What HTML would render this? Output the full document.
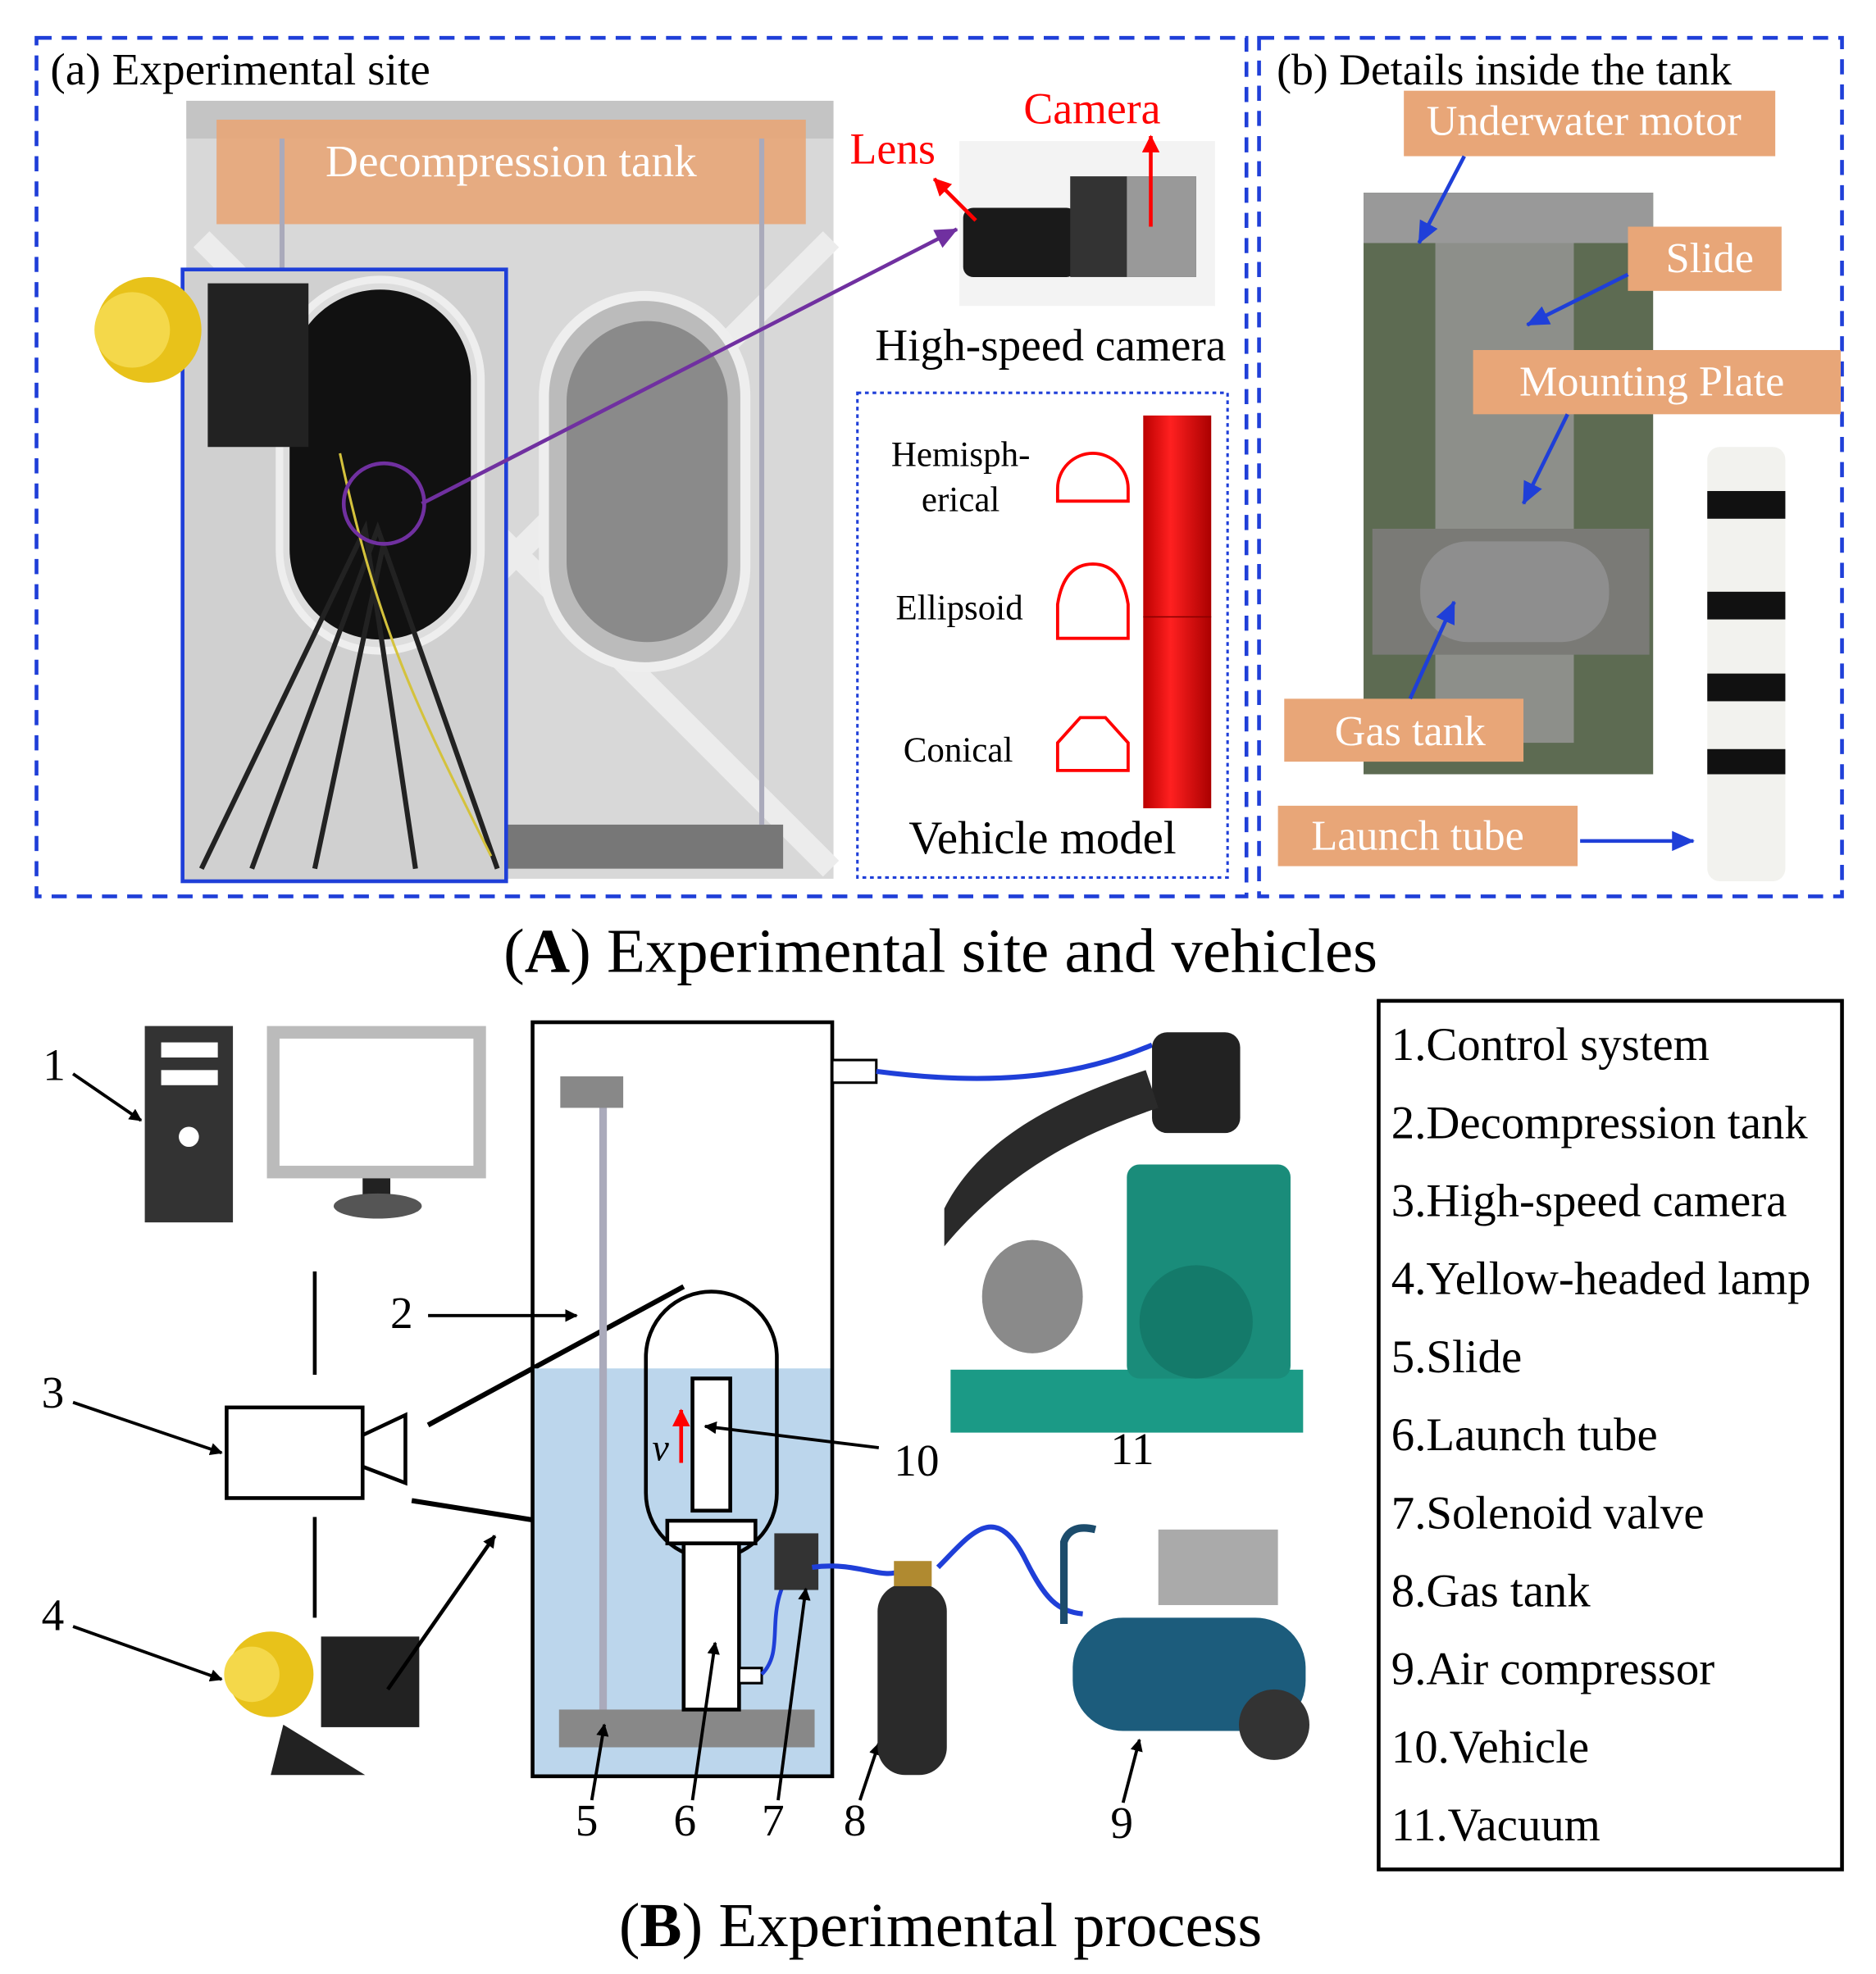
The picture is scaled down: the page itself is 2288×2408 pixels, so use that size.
<!DOCTYPE html>
<html><head><meta charset="utf-8"><style>
html,body{margin:0;padding:0;background:#fff}
svg{display:block}
text{font-family:"Liberation Serif",serif}
</style></head><body>
<svg width="2288" height="2408" viewBox="0 0 1490 1568" xmlns="http://www.w3.org/2000/svg">
<defs>
<marker id="ab" markerWidth="10" markerHeight="10" refX="9" refY="5" orient="auto" markerUnits="userSpaceOnUse"><path d="M0,0 L10,5 L0,10z" fill="#000"/></marker>
<marker id="ar" markerWidth="14" markerHeight="14" refX="13" refY="7" orient="auto" markerUnits="userSpaceOnUse"><path d="M0,0 L14,7 L0,14z" fill="red"/></marker>
<marker id="abl" markerWidth="18" markerHeight="16" refX="17" refY="8" orient="auto" markerUnits="userSpaceOnUse"><path d="M0,0 L18,8 L0,16z" fill="#1f3fd8"/></marker>
<marker id="ap" markerWidth="18" markerHeight="16" refX="17" refY="8" orient="auto" markerUnits="userSpaceOnUse"><path d="M0,0 L18,8 L0,16z" fill="#7030a0"/></marker>
<linearGradient id="cyl" x1="0" x2="1"><stop offset="0" stop-color="#b00"/><stop offset=".4" stop-color="#ff2020"/><stop offset="1" stop-color="#a00"/></linearGradient>
</defs>
<rect x="29" y="30" width="961" height="682" fill="none" stroke="#1f3fd8" stroke-width="3" stroke-dasharray="12,8"/>
<rect x="1000" y="30" width="463" height="682" fill="none" stroke="#1f3fd8" stroke-width="3" stroke-dasharray="12,8"/>
<rect x="148" y="80" width="514" height="618" fill="#d8d8d8"/>
<rect x="148" y="80" width="514" height="30" fill="#c4c4c4"/>
<path d="M160,190 L660,690 M660,190 L160,690" stroke="#ececec" stroke-width="18"/>
<rect x="172" y="95" width="468" height="83" fill="#e8a678" opacity=".9"/>
<text x="406" y="140" font-size="36" fill="#fff" text-anchor="middle">Decompression tank</text>
<rect x="400" y="655" width="222" height="35" fill="#777"/>
<rect x="603" y="110" width="4" height="545" fill="#aab"/>
<rect x="222" y="110" width="4" height="110" fill="#aab"/>
<rect x="432" y="235" width="160" height="295" rx="80" fill="#bbb" stroke="#eee" stroke-width="8"/>
<rect x="450" y="255" width="128" height="255" rx="64" fill="#8a8a8a"/>
<rect x="145" y="214" width="257" height="486" fill="#d0d0d0" stroke="#1f3fd8" stroke-width="3"/>
<rect x="222" y="222" width="160" height="295" rx="80" fill="#ddd" stroke="#eee" stroke-width="6"/>
<rect x="230" y="230" width="144" height="278" rx="72" fill="#111"/>
<path d="M160,690 L290,420 L330,690 M200,690 L300,420 L395,690 M250,690 L305,430" stroke="#222" stroke-width="4" fill="none"/>
<path d="M270,360 C300,500 330,560 390,680" stroke="#d4c23c" stroke-width="2" fill="none"/>
<circle cx="118" cy="262" r="42" fill="#e8c21a"/><circle cx="105" cy="262" r="30" fill="#f4d84a"/>
<rect x="165" y="225" width="80" height="130" fill="#222"/>
<circle cx="305" cy="400" r="32" fill="none" stroke="#7030a0" stroke-width="3"/>
<line x1="335" y1="400" x2="760" y2="182" stroke="#7030a0" stroke-width="3" marker-end="url(#ap)"/>
<rect x="762" y="112" width="203" height="131" fill="#f3f3f3"/>
<rect x="765" y="165" width="90" height="55" rx="8" fill="#1a1a1a"/>
<rect x="850" y="140" width="100" height="80" fill="#333"/>
<rect x="895" y="140" width="55" height="80" fill="#999"/>
<line x1="775" y1="175" x2="742" y2="142" stroke="red" stroke-width="3" marker-end="url(#ar)"/>
<line x1="914" y1="180" x2="914" y2="108" stroke="red" stroke-width="3" marker-end="url(#ar)"/>
<text x="675" y="130" font-size="35" fill="red">Lens</text>
<text x="813" y="98" font-size="35" fill="red">Camera</text>
<text x="695" y="286" font-size="36">High-speed camera</text>
<text x="40" y="67" font-size="36">(a) Experimental site</text>
<rect x="681" y="312" width="294" height="385" fill="none" stroke="#1f3fd8" stroke-width="2" stroke-dasharray="3,3"/>
<text x="763" y="370" font-size="28" text-anchor="middle">Hemisph-</text>
<text x="763" y="406" font-size="28" text-anchor="middle">erical</text>
<text x="762" y="492" font-size="28" text-anchor="middle">Ellipsoid</text>
<text x="761" y="605" font-size="28" text-anchor="middle">Conical</text>
<path d="M840,398 L840,388 A28,28 0 0 1 896,388 L896,398 Z" fill="none" stroke="red" stroke-width="2.5"/>
<path d="M840,507 L840,480 Q845,448 868,448 Q891,448 896,480 L896,507 Z" fill="none" stroke="red" stroke-width="2.5"/>
<path d="M840,612 L840,590 L858,570 L878,570 L896,590 L896,612 Z" fill="none" stroke="red" stroke-width="2.5"/>
<rect x="908" y="330" width="54" height="312" fill="url(#cyl)"/>
<line x1="908" y1="490" x2="962" y2="490" stroke="#800" stroke-width="1"/>
<text x="828" y="678" font-size="37" text-anchor="middle">Vehicle model</text>
<text x="1014" y="67" font-size="35">(b) Details inside the  tank</text>
<rect x="1083" y="153" width="230" height="462" fill="#5d6b52"/>
<rect x="1140" y="190" width="110" height="400" fill="#8d8f8a"/>
<path d="M1090,420 L1310,420 L1310,520 L1090,520Z" fill="#7a7a76"/>
<rect x="1128" y="430" width="150" height="80" rx="38" fill="#8e8e8e"/>
<rect x="1083" y="153" width="230" height="40" fill="#999"/>
<rect x="1115" y="72" width="295" height="52" fill="#e8a678"/>
<text x="1258" y="107" font-size="34" fill="#fff" text-anchor="middle">Underwater motor</text>
<rect x="1293" y="180" width="122" height="51" fill="#e8a678"/>
<text x="1358" y="216" font-size="34" fill="#fff" text-anchor="middle">Slide</text>
<rect x="1170" y="278" width="292" height="51" fill="#e8a678"/>
<text x="1312" y="314" font-size="34" fill="#fff" text-anchor="middle">Mounting Plate</text>
<rect x="1020" y="555" width="190" height="50" fill="#e8a678"/>
<text x="1120" y="592" font-size="34" fill="#fff" text-anchor="middle">Gas tank</text>
<rect x="1015" y="640" width="238" height="48" fill="#e8a678"/>
<text x="1126" y="675" font-size="34" fill="#fff" text-anchor="middle">Launch tube</text>
<g stroke="#1f3fd8" stroke-width="3">
<line x1="1163" y1="124" x2="1127" y2="193" marker-end="url(#abl)"/>
<line x1="1293" y1="218" x2="1213" y2="258" marker-end="url(#abl)"/>
<line x1="1245" y1="329" x2="1210" y2="400" marker-end="url(#abl)"/>
<line x1="1120" y1="555" x2="1155" y2="478" marker-end="url(#abl)"/>
<line x1="1255" y1="668" x2="1345" y2="668" marker-end="url(#abl)"/>
</g>
<rect x="1356" y="355" width="62" height="345" rx="10" fill="#f2f2ee"/>
<rect x="1356" y="390" width="62" height="22" fill="#111"/>
<rect x="1356" y="470" width="62" height="22" fill="#111"/>
<rect x="1356" y="535" width="62" height="22" fill="#111"/>
<rect x="1356" y="595" width="62" height="20" fill="#111"/>
<text x="747" y="772" font-size="50" text-anchor="middle">(<tspan font-weight="bold">A</tspan>) Experimental site and vehicles</text>
<rect x="115" y="815" width="70" height="156" fill="#333"/>
<rect x="128" y="828" width="45" height="12" fill="#fff"/>
<rect x="128" y="850" width="45" height="12" fill="#fff"/>
<circle cx="150" cy="903" r="8" fill="#fff"/>
<rect x="217" y="820" width="164" height="111" fill="none" stroke="#bbb" stroke-width="10"/>
<rect x="288" y="936" width="22" height="18" fill="#222"/>
<ellipse cx="300" cy="958" rx="35" ry="10" fill="#555"/>
<g font-size="36">
<text x="34" y="858">1</text>
<text x="33" y="1118">3</text>
<text x="33" y="1295">4</text>
<text x="310" y="1055">2</text>
<text x="710" y="1172">10</text>
<text x="457" y="1458">5</text>
<text x="535" y="1458">6</text>
<text x="605" y="1458">7</text>
<text x="670" y="1458">8</text>
<text x="882" y="1460">9</text>
<text x="882" y="1163">11</text>
</g>
<line x1="58" y1="853" x2="112" y2="890" stroke="#000" stroke-width="2.5" marker-end="url(#ab)"/>
<line x1="250" y1="1010" x2="250" y2="1092" stroke="#000" stroke-width="3"/>
<line x1="250" y1="1205" x2="250" y2="1285" stroke="#000" stroke-width="3"/>
<rect x="180" y="1118" width="108" height="72" fill="#fff" stroke="#000" stroke-width="3"/>
<path d="M288,1140 L322,1124 L322,1178 L288,1165" fill="none" stroke="#000" stroke-width="3"/>
<line x1="58" y1="1114" x2="176" y2="1154" stroke="#000" stroke-width="2.5" marker-end="url(#ab)"/>
<line x1="58" y1="1292" x2="176" y2="1334" stroke="#000" stroke-width="2.5" marker-end="url(#ab)"/>
<circle cx="215" cy="1330" r="34" fill="#e8c21a"/><circle cx="200" cy="1330" r="22" fill="#f4d84a"/>
<rect x="255" y="1300" width="78" height="72" fill="#222"/>
<path d="M225,1370 L215,1410 L290,1410 Z" fill="#222"/>
<line x1="308" y1="1342" x2="393" y2="1220" stroke="#000" stroke-width="3" marker-end="url(#ab)"/>
<line x1="340" y1="1132" x2="543" y2="1022" stroke="#000" stroke-width="4"/>
<line x1="327" y1="1192" x2="515" y2="1222" stroke="#000" stroke-width="4"/>
<rect x="423" y="1087" width="238" height="324" fill="#bcd6ec"/>
<rect x="423" y="812" width="238" height="599" fill="none" stroke="#000" stroke-width="3"/>
<rect x="661" y="842" width="35" height="18" fill="#fff" stroke="#000" stroke-width="2"/>
<rect x="476" y="870" width="6" height="500" fill="#aab"/>
<rect x="445" y="855" width="50" height="25" fill="#888"/>
<rect x="444" y="1358" width="203" height="30" fill="#888"/>
<rect x="513" y="1026" width="104" height="212" rx="52" fill="none" stroke="#000" stroke-width="3"/>
<rect x="550" y="1095" width="30" height="105" fill="#fff" stroke="#000" stroke-width="3"/>
<line x1="541" y1="1162" x2="541" y2="1120" stroke="red" stroke-width="3" marker-end="url(#ar)"/>
<text x="518" y="1160" font-size="30" font-style="italic">v</text>
<rect x="530" y="1208" width="70" height="18" fill="#fff" stroke="#000" stroke-width="3"/>
<rect x="543" y="1226" width="44" height="132" fill="#fff" stroke="#000" stroke-width="3"/>
<rect x="587" y="1325" width="18" height="12" fill="#fff" stroke="#000" stroke-width="2"/>
<path d="M605,1330 C625,1310 605,1280 630,1245" stroke="#1f3fd8" stroke-width="3" fill="none"/>
<rect x="615" y="1218" width="35" height="45" fill="#333"/>
<path d="M645,1245 C680,1240 700,1255 715,1248" stroke="#1f3fd8" stroke-width="4" fill="none"/>
<path d="M745,1245 C770,1220 790,1190 815,1240 C830,1270 840,1280 860,1282" stroke="#1f3fd8" stroke-width="4" fill="none"/>
<path d="M696,851 C780,862 850,858 915,830" stroke="#1f3fd8" stroke-width="4" fill="none"/>
<line x1="340" y1="1045" x2="458" y2="1045" stroke="#000" stroke-width="2.5" marker-end="url(#ab)"/>
<line x1="698" y1="1150" x2="560" y2="1133" stroke="#000" stroke-width="2.5" marker-end="url(#ab)"/>
<line x1="470" y1="1430" x2="480" y2="1370" stroke="#000" stroke-width="2.5" marker-end="url(#ab)"/>
<line x1="550" y1="1430" x2="568" y2="1305" stroke="#000" stroke-width="2.5" marker-end="url(#ab)"/>
<line x1="618" y1="1430" x2="640" y2="1262" stroke="#000" stroke-width="2.5" marker-end="url(#ab)"/>
<line x1="683" y1="1430" x2="698" y2="1385" stroke="#000" stroke-width="2.5" marker-end="url(#ab)"/>
<line x1="892" y1="1432" x2="905" y2="1382" stroke="#000" stroke-width="2.5" marker-end="url(#ab)"/>
<rect x="697" y="1258" width="55" height="152" rx="22" fill="#2a2a2a"/>
<rect x="710" y="1240" width="30" height="20" fill="#b08a30"/>
<rect x="852" y="1285" width="185" height="90" rx="40" fill="#1c5c7c"/>
<circle cx="1012" cy="1370" r="28" fill="#333"/>
<rect x="920" y="1215" width="95" height="60" fill="#aaa"/>
<path d="M845,1290 L845,1225 Q850,1210 870,1215" stroke="#1c4c6c" stroke-width="6" fill="none"/>
<rect x="755" y="1088" width="280" height="50" fill="#1b9a86"/>
<rect x="895" y="925" width="130" height="170" rx="10" fill="#1a8c7a"/>
<circle cx="950" cy="1050" r="45" fill="#147a6a"/>
<ellipse cx="820" cy="1030" rx="40" ry="45" fill="#8a8a8a"/>
<rect x="915" y="820" width="70" height="80" rx="12" fill="#222"/>
<path d="M750,960 C780,900 850,870 910,850 L920,880 C860,900 800,930 750,990 Z" fill="#2a2a2a"/>
<rect x="1095" y="795" width="368" height="690" fill="none" stroke="#000" stroke-width="3"/>
<g font-size="37">
<text x="1105" y="842">1.Control system</text>
<text x="1105" y="904">2.Decompression tank</text>
<text x="1105" y="966">3.High-speed camera</text>
<text x="1105" y="1028">4.Yellow-headed lamp</text>
<text x="1105" y="1090">5.Slide</text>
<text x="1105" y="1152">6.Launch tube</text>
<text x="1105" y="1214">7.Solenoid valve</text>
<text x="1105" y="1276">8.Gas tank</text>
<text x="1105" y="1338">9.Air compressor</text>
<text x="1105" y="1400">10.Vehicle</text>
<text x="1105" y="1462">11.Vacuum</text>
</g>
<text x="747" y="1546" font-size="50" text-anchor="middle">(<tspan font-weight="bold">B</tspan>) Experimental process</text>
</svg>
</body></html>
